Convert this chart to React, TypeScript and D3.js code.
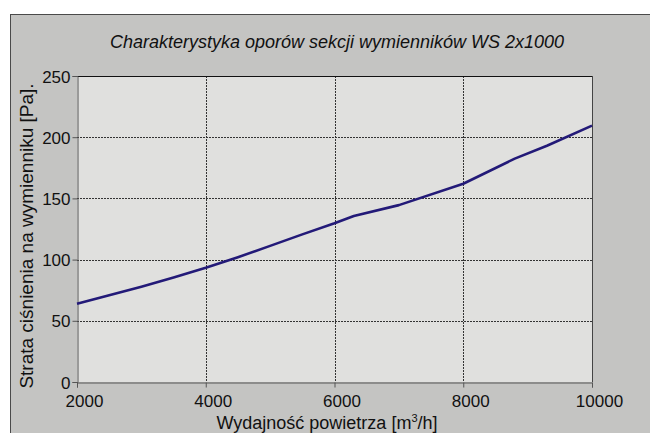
import React, { useEffect, useRef } from "react";
import * as d3 from "d3";

const flowRates = [2000, 2500, 3000, 3500, 4000, 4500, 5000, 5500, 6000, 6300, 7000, 8000, 8800, 9300, 10000];
const pressureDrops = [64, 70.8, 77.9, 85.4, 93.3, 102, 111.2, 120.6, 129.7, 135.6, 144.5, 162, 182.5, 193, 209.5];
const xTicks = [2000, 4000, 6000, 8000, 10000];
const yTicks = [0, 50, 100, 150, 200, 250];

const title = "Charakterystyka oporów sekcji wymienników WS 2x1000";
const yTitle = "Strata ciśnienia na wymienniku [Pa].";

const App = () => {
  const chartRef = useRef<SVGSVGElement>(null);

  useEffect(() => {
    const width = 650;
    const height = 433;
    const left = 77, right = 592, top = 76, bottom = 382;
    const font = "'Liberation Sans', Arial, sans-serif";

    const svg = d3.select(chartRef.current);
    svg.selectAll("*").remove();
    svg.attr("width", width).attr("height", height);

    const x = d3.scaleLinear().domain([2000, 10000]).range([left, right]);
    const y = d3.scaleLinear().domain([0, 250]).range([bottom, top]);

    // outer frame
    svg.append("rect")
      .attr("x", 10.5).attr("y", 14.5)
      .attr("width", 700).attr("height", 500)
      .attr("fill", "#c4c4c2")
      .attr("stroke", "#4a4a4a");

    // plot area
    svg.append("rect")
      .attr("x", left).attr("y", top)
      .attr("width", right - left).attr("height", bottom - top)
      .attr("fill", "#e0e0de");

    // grid
    svg.append("g")
      .selectAll("line")
      .data(yTicks.slice(1, -1))
      .enter()
      .append("line")
      .attr("x1", left).attr("x2", right)
      .attr("y1", d => Math.round(y(d)) + 0.5)
      .attr("y2", d => Math.round(y(d)) + 0.5)
      .attr("stroke", "#333")
      .attr("stroke-dasharray", "2,1");

    svg.append("g")
      .selectAll("line")
      .data(xTicks.slice(1, -1))
      .enter()
      .append("line")
      .attr("y1", top).attr("y2", bottom)
      .attr("x1", d => Math.round(x(d)) + 0.5)
      .attr("x2", d => Math.round(x(d)) + 0.5)
      .attr("stroke", "#333")
      .attr("stroke-dasharray", "2,1");

    // plot borders
    svg.append("line")
      .attr("x1", left).attr("x2", right + 0.5)
      .attr("y1", top + 0.5).attr("y2", top + 0.5)
      .attr("stroke", "#111");
    svg.append("line")
      .attr("x1", right + 0.5).attr("x2", right + 0.5)
      .attr("y1", top).attr("y2", bottom)
      .attr("stroke", "#444");

    // axes
    const yAxis = svg.append("g")
      .attr("transform", `translate(${left + 0.5},0)`)
      .call(d3.axisLeft(y).tickValues(yTicks).tickSize(5).tickPadding(2));
    const xAxis = svg.append("g")
      .attr("transform", `translate(0,${bottom + 0.5})`)
      .call(d3.axisBottom(x).tickValues(xTicks).tickSize(5).tickPadding(5).tickFormat(d3.format("d")));

    [xAxis, yAxis].forEach(g => {
      g.select(".domain").attr("stroke", "#555");
      g.selectAll(".tick line").attr("stroke", "#555");
      g.selectAll("text")
        .attr("fill", "#111")
        .style("font-family", font)
        .style("font-size", "17px");
    });
    xAxis.selectAll("text").attr("dx", 7).attr("dy", "0.85em");
    yAxis.selectAll("text").attr("dy", "0.36em");

    // data line
    const line = d3.line<number>()
      .x((d, i) => x(flowRates[i]))
      .y(d => y(d));

    svg.append("path")
      .datum(pressureDrops)
      .attr("d", line)
      .attr("fill", "none")
      .attr("stroke", "#231a78")
      .attr("stroke-width", 2.6)
      .attr("stroke-linejoin", "round");

    // titles
    svg.append("text")
      .attr("x", 337).attr("y", 48)
      .attr("text-anchor", "middle")
      .style("font-family", font)
      .style("font-style", "italic")
      .style("font-size", "18px")
      .attr("fill", "#111")
      .text(title);

    svg.append("text")
      .attr("transform", `translate(33,236) rotate(-90)`)
      .attr("text-anchor", "middle")
      .style("font-family", font)
      .style("font-size", "19px")
      .attr("fill", "#111")
      .text(yTitle);

    const xt = svg.append("text")
      .attr("x", 327).attr("y", 429)
      .attr("text-anchor", "middle")
      .style("font-family", font)
      .style("font-size", "18px")
      .attr("fill", "#111");
    xt.append("tspan").text("Wydajność powietrza [m");
    xt.append("tspan").attr("dy", -7).style("font-size", "11px").text("3");
    xt.append("tspan").attr("dy", 7).text("/h]");
  }, []);

  return <svg ref={chartRef} style={{ position: "absolute", left: 0, top: 0 }}></svg>;
};

export default App;
